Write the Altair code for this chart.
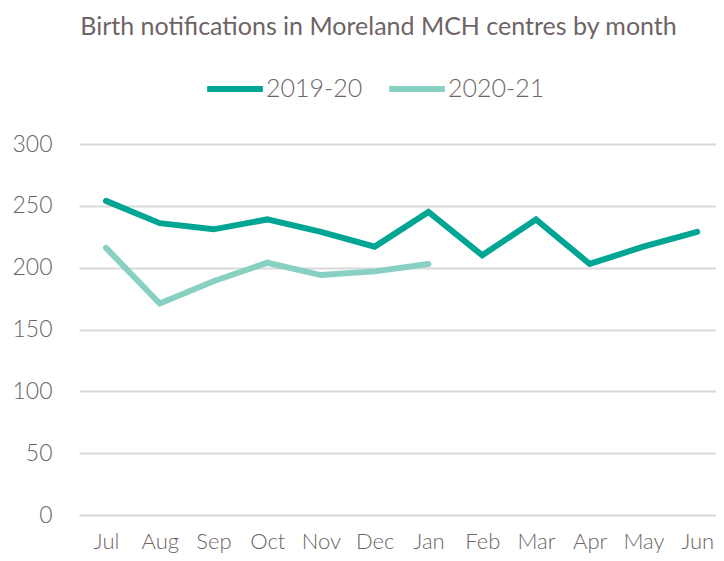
import altair as alt
import pandas as pd

months = ["Jul", "Aug", "Sep", "Oct", "Nov", "Dec", "Jan", "Feb", "Mar", "Apr", "May", "Jun"]
series_names = ["2019-20", "2020-21"]
values_2019_20 = [254, 236, 231, 239, 229, 217, 245, 210, 239, 203, 217, 229]
values_2020_21 = [216, 171, 189, 204, 194, 197, 203]
y_ticks = [0, 50, 100, 150, 200, 250, 300]
colors = ["#00A594", "#88D1C2"]

rows = []
for i, v in enumerate(values_2019_20):
    rows.append({"idx": i, "month": months[i], "value": v, "series": series_names[0]})
for i, v in enumerate(values_2020_21):
    rows.append({"idx": i, "month": months[i], "value": v, "series": series_names[1]})
df = pd.DataFrame(rows)

label_expr = "[" + ",".join("'%s'" % m for m in months) + "][datum.value]"
text_color = "#6e6466"
font = "Lato"

chart = alt.Chart(df).mark_line(strokeWidth=6, strokeCap="round", strokeJoin="miter").encode(
    x=alt.X("idx:Q",
            scale=alt.Scale(domain=[-0.5025, 11.35], nice=False, zero=False),
            axis=alt.Axis(values=list(range(len(months))), labelExpr=label_expr, title=None,
                          grid=False, domain=False, ticks=False, labelPadding=16,
                          labelFontSize=22, labelColor=text_color, labelFont=font,
                          labelFontWeight=300, labelFlush=False, labelBaseline="top")),
    y=alt.Y("value:Q",
            scale=alt.Scale(domain=[0, 300], nice=False),
            axis=alt.Axis(values=y_ticks, title=None, domain=False, ticks=False,
                          gridColor="#d9d9d9", gridWidth=2, labelPadding=27,
                          labelFontSize=23, labelColor=text_color, labelFont=font,
                          labelFontWeight=300)),
    color=alt.Color("series:N",
                    scale=alt.Scale(domain=series_names, range=colors),
                    legend=alt.Legend(title=None, orient="none", legendX=125, legendY=-86,
                                      direction="horizontal", symbolType="stroke",
                                      symbolSize=3100, symbolStrokeWidth=6,
                                      labelFontSize=25, labelColor=text_color, labelFont=font,
                                      labelFontWeight=300, columnPadding=14, labelOffset=0)),
).properties(
    width=637,
    height=371,
    title=alt.TitleParams("Birth notifications in Moreland MCH centres by month",
                          fontSize=25, color=text_color, font=font, fontWeight="normal",
                          anchor="middle", frame="group", dx=-19, offset=18),
    autosize=alt.AutoSizeParams(type="none"),
    padding={"left": 71, "top": 136, "right": 0, "bottom": 38},
).configure_view(stroke=None)

chart.save("out.html", embed_options={"renderer": "svg", "actions": False})
